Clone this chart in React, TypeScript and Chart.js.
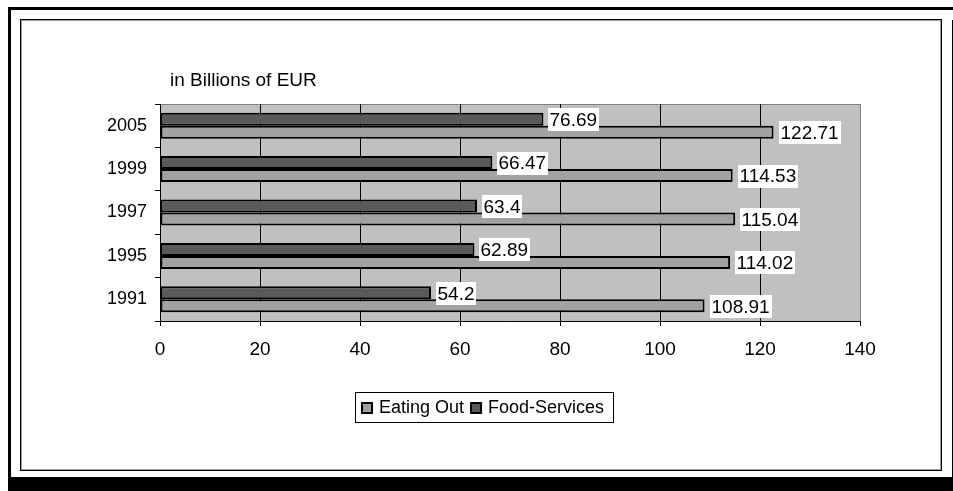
import React, { useEffect, useRef } from "react";
import { Chart, registerables } from "chart.js";

Chart.register(...registerables);

// Spending in billions of EUR by year (top row first)
const years = ["2005", "1999", "1997", "1995", "1991"];
const eatingOut = [122.71, 114.53, 115.04, 114.02, 108.91];
const foodServices = [76.69, 66.47, 63.4, 62.89, 54.2];
const xMin = 0;
const xMax = 140;
const xStep = 20;
const unitLabel = "in Billions of EUR";

const FONT = "'Liberation Sans', Arial, Helvetica, sans-serif";
const LIGHT = "#a2a2a2";
const DARK = "#5a5a5a";
const PLOT_BG = "#c0c0c0";

const W = 953;
const H = 491;

// Frames, plot background and the unit caption, drawn under everything
const backdrop = {
  id: "backdrop",
  beforeDraw(chart: Chart) {
    const { ctx, chartArea } = chart;
    ctx.save();
    ctx.fillStyle = "#fff";
    ctx.fillRect(0, 0, W, H);

    // outer frame with its drop shadow
    ctx.fillStyle = "#000";
    ctx.fillRect(8, 7, W - 8, 3);
    ctx.fillRect(8, 7, 3, H - 7);
    ctx.fillRect(952, 20, 3, H - 20);
    ctx.fillRect(8, 477, W - 8, H - 477);

    // inner frame
    ctx.lineWidth = 1;
    ctx.strokeStyle = "#000";
    ctx.strokeRect(20.5, 19.5, 921, 451);
    ctx.strokeStyle = "#a0a0a0";
    ctx.strokeRect(21.5, 20.5, 919, 449);

    // plot area
    const l = Math.round(chartArea.left);
    const t = Math.round(chartArea.top);
    const r = Math.round(chartArea.right);
    const b = Math.round(chartArea.bottom);
    ctx.fillStyle = PLOT_BG;
    ctx.fillRect(l, t, r - l, b - t);
    ctx.strokeStyle = "#808080";
    ctx.strokeRect(l + 0.5, t + 0.5, r - l, b - t);

    // unit caption
    ctx.fillStyle = "#000";
    ctx.font = `19px ${FONT}`;
    ctx.textBaseline = "alphabetic";
    ctx.textAlign = "left";
    ctx.fillText(unitLabel, 170, 86);
    ctx.restore();
  },
};

// Value boxes to the right of each bar
const valueLabels = {
  id: "valueLabels",
  afterDatasetsDraw(chart: Chart) {
    const ctx = chart.ctx;
    ctx.save();
    ctx.font = `19px ${FONT}`;
    ctx.textBaseline = "middle";
    ctx.textAlign = "left";
    chart.data.datasets.forEach((ds, di) => {
      const meta = chart.getDatasetMeta(di);
      meta.data.forEach((bar: any, i: number) => {
        const text = String(ds.data[i]);
        const w = ctx.measureText(text).width;
        const x = Math.round(bar.x + 5);
        const y = bar.y + 0.5;
        ctx.fillStyle = "#fff";
        ctx.fillRect(x, Math.round(y - 11.5), Math.ceil(w + 3), 23);
        ctx.fillStyle = "#000";
        ctx.fillText(text, x + 1.5, y + 1);
      });
    });
    ctx.restore();
  },
};

// Boxed legend below the plot
const boxedLegend = {
  id: "boxedLegend",
  afterDraw(chart: Chart) {
    const ctx = chart.ctx;
    ctx.save();
    ctx.font = `18px ${FONT}`;
    const items = [
      { label: "Eating Out", color: LIGHT },
      { label: "Food-Services", color: DARK },
    ];
    const sq = 12;
    const padL = 6;
    const padR = 9;
    const gapText = 6;
    const gapItem = 6;
    const widths = items.map((it) => ctx.measureText(it.label).width);
    const total =
      padL + padR + items.length * (sq + gapText) + widths.reduce((a, b) => a + b, 0) + gapItem * (items.length - 1);
    const cx = 484;
    const top = 392;
    const h = 30;
    const left = Math.round(cx - total / 2);
    ctx.fillStyle = "#fff";
    ctx.fillRect(left, top, total, h);
    ctx.strokeStyle = "#000";
    ctx.lineWidth = 1;
    ctx.strokeRect(left + 0.5, top + 0.5, Math.round(total), h);
    let x = left + padL;
    const midY = top + h / 2;
    items.forEach((it, i) => {
      ctx.fillStyle = it.color;
      ctx.fillRect(x, midY - sq / 2 + 1, sq, sq);
      ctx.strokeStyle = "#000";
      ctx.lineWidth = 2;
      ctx.strokeRect(x + 1, midY - sq / 2 + 2, sq - 2, sq - 2);
      x += sq + gapText;
      ctx.fillStyle = "#000";
      ctx.textBaseline = "middle";
      ctx.textAlign = "left";
      ctx.fillText(it.label, x, midY + 1);
      x += widths[i] + gapItem;
    });
    ctx.restore();
  },
};

export default function App() {
  const canvasRef = useRef<HTMLCanvasElement | null>(null);

  useEffect(() => {
    const canvas = canvasRef.current;
    if (!canvas) return;
    const chart = new Chart(canvas, {
      type: "bar",
      data: {
        labels: years,
        datasets: [
          {
            label: "Food-Services",
            data: foodServices,
            backgroundColor: DARK,
            borderColor: "#000",
            borderWidth: 2,
            borderSkipped: false,
            categoryPercentage: 0.6,
            barPercentage: 1,
          },
          {
            label: "Eating Out",
            data: eatingOut,
            backgroundColor: LIGHT,
            borderColor: "#000",
            borderWidth: 2,
            borderSkipped: false,
            categoryPercentage: 0.6,
            barPercentage: 1,
          },
        ],
      },
      options: {
        indexAxis: "y",
        responsive: false,
        maintainAspectRatio: false,
        animation: false,
        devicePixelRatio: 1,
        layout: { padding: { left: 100, right: 93, top: 104, bottom: 130 } },
        plugins: {
          legend: { display: false },
          tooltip: { enabled: false },
          title: { display: false },
        },
        scales: {
          x: {
            type: "linear",
            min: xMin,
            max: xMax,
            ticks: {
              stepSize: xStep,
              color: "#000",
              font: { family: FONT, size: 19 },
              padding: 12,
              maxRotation: 0,
            },
            grid: {
              color: (c: any) => (c.tick && c.tick.value === xMax ? "#808080" : "#000"),
              tickColor: "#000",
              tickLength: 5,
              lineWidth: 1,
            },
            border: { display: true, color: "#000", width: 1 },
            afterFit: (s: any) => {
              s.height = 40;
            },
          },
          y: {
            type: "category",
            ticks: {
              color: "#000",
              font: { family: FONT, size: 18 },
              padding: 8,
            },
            grid: {
              offset: true,
              drawOnChartArea: false,
              drawTicks: true,
              tickLength: 5,
              color: "#000",
            },
            border: { display: true, color: "#000", width: 1 },
            afterFit: (s: any) => {
              s.width = 60;
            },
          },
        },
      },
      plugins: [backdrop, valueLabels, boxedLegend],
    });
    return () => chart.destroy();
  }, []);

  return (
    <div style={{ position: "fixed", left: 0, top: 0, width: W, height: H, background: "#fff" }}>
      <canvas ref={canvasRef} width={W} height={H} style={{ display: "block", width: W, height: H }} />
    </div>
  );
}
